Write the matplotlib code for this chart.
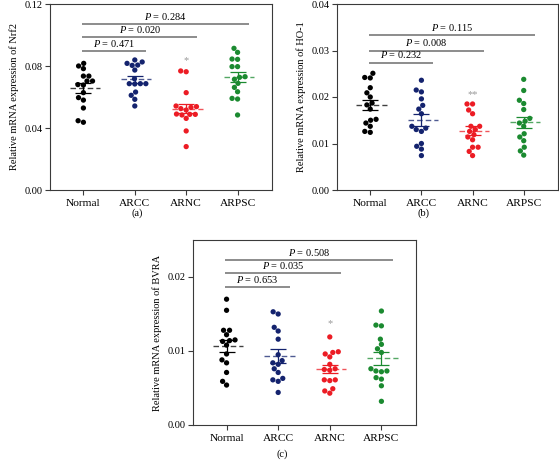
import matplotlib
matplotlib.use("Agg")
import matplotlib.pyplot as plt
import numpy as np
import pandas as pd
import seaborn as sns

groups = ["Normal", "ARCC", "ARNC", "ARPSC"]
colors = ["#000000", "#14236e", "#ec1c24", "#1b8a30"]

nrf2 = [
    [0.0817, 0.0800, 0.0783, 0.0735, 0.0735, 0.0703, 0.0703, 0.0680, 0.0677, 0.0628, 0.0596, 0.0580, 0.0529, 0.0447, 0.0437],
    [0.0839, 0.0826, 0.0817, 0.0806, 0.0804, 0.0774, 0.0718, 0.0686, 0.0686, 0.0686, 0.0684, 0.0632, 0.0611, 0.0585, 0.0542],
    [0.0763, 0.0768, 0.0628, 0.0542, 0.0538, 0.0533, 0.0525, 0.0516, 0.0490, 0.0488, 0.0488, 0.0484, 0.0462, 0.0381, 0.0280],
    [0.0914, 0.0888, 0.0845, 0.0843, 0.0796, 0.0796, 0.0731, 0.0727, 0.0714, 0.0688, 0.0662, 0.0634, 0.0591, 0.0587, 0.0484],
]
ho1 = [
    [0.0251, 0.0242, 0.0241, 0.0220, 0.0209, 0.0200, 0.0187, 0.0183, 0.0174, 0.0152, 0.0150, 0.0144, 0.0137, 0.0126, 0.0124],
    [0.0236, 0.0215, 0.0211, 0.0196, 0.0182, 0.0174, 0.0164, 0.0137, 0.0133, 0.0130, 0.0126, 0.0100, 0.0094, 0.0088, 0.0074],
    [0.0185, 0.0185, 0.0172, 0.0164, 0.0137, 0.0137, 0.0130, 0.0126, 0.0119, 0.0114, 0.0108, 0.0092, 0.0092, 0.0083, 0.0074],
    [0.0238, 0.0214, 0.0193, 0.0186, 0.0173, 0.0154, 0.0148, 0.0144, 0.0137, 0.0121, 0.0114, 0.0106, 0.0092, 0.0084, 0.0075],
]
bvra = [
    [0.0170, 0.0155, 0.0128, 0.0128, 0.0122, 0.0115, 0.0114, 0.0113, 0.0108, 0.0096, 0.0088, 0.0084, 0.0071, 0.0059, 0.0054],
    [0.0153, 0.0150, 0.0132, 0.0127, 0.0116, 0.0095, 0.0087, 0.0084, 0.0082, 0.0076, 0.0071, 0.0063, 0.0061, 0.0059, 0.0044],
    [0.0119, 0.0099, 0.0098, 0.0096, 0.0092, 0.0082, 0.0076, 0.0075, 0.0074, 0.0061, 0.0060, 0.0061, 0.0049, 0.0046, 0.0043],
    [0.0154, 0.0135, 0.0134, 0.0116, 0.0109, 0.0103, 0.0098, 0.0076, 0.0073, 0.0073, 0.0072, 0.0064, 0.0062, 0.0053, 0.0032],
]

nrf2_p = ["0.471", "0.020", "0.284"]
ho1_p = ["0.232", "0.008", "0.115"]
bvra_p = ["0.653", "0.035", "0.508"]

plt.rcParams["font.family"] = ["Liberation Serif", "DejaVu Serif"]
plt.rcParams["mathtext.fontset"] = "custom"
plt.rcParams["mathtext.it"] = "Liberation Serif:italic"
plt.rcParams["mathtext.rm"] = "Liberation Serif"

FS = 7.5
SPINE = "#3a3a3a"


def draw_panel(ax, data, ymax, yticks, ylabel, pvals, star, bar_fracs, star_off):
    df = pd.DataFrame({
        "group": np.repeat(groups, [len(d) for d in data]),
        "value": np.concatenate(data),
    })
    # lay the swarm out with a wider marker, then shrink the dots
    sns.swarmplot(data=df, x="group", y="value", hue="group", order=groups,
                  hue_order=groups, palette=colors, size=6.0, ax=ax,
                  legend=False, linewidth=0)
    for coll in ax.collections:
        coll.set_sizes([3.8 ** 2])

    for i, d in enumerate(data):
        d = np.asarray(d)
        m = d.mean()
        sem = d.std(ddof=1) / np.sqrt(len(d))
        ax.errorbar(i, m, yerr=sem, color=colors[i], capsize=5.5,
                    elinewidth=0.9, capthick=0.9, zorder=4)
        ax.hlines(m, i - 0.27, i + 0.32, colors=colors[i], linestyles=(0, (4, 2.2)),
                  linewidth=1.0, alpha=0.75, zorder=4)

    # comparison bars vs Normal
    for j, (p, f) in enumerate(zip(pvals, bar_fracs)):
        y = f * ymax
        x0, x1 = -0.03, j + 1 + 0.22
        ax.plot([x0, x1], [y, y], color="#6e6e6e", lw=1.1, solid_capstyle="butt")
        ax.text((x0 + x1) / 2, y + 0.012 * ymax, f"$P$ = {p}", ha="center", va="bottom",
                fontsize=FS)

    ax.text(2, max(data[2]) + star_off * ymax, star, ha="center", va="center",
            fontsize=FS, color="#999999")

    ax.set_xlim(-0.65, 3.67)
    ax.set_ylim(0, ymax)
    ax.set_yticks(yticks)
    ax.set_yticklabels([f"{t:.2f}" for t in yticks])
    ax.set_xlabel("")
    ax.set_ylabel(ylabel, fontsize=FS, labelpad=4)
    ax.tick_params(direction="out", length=3.5, width=0.8, labelsize=FS,
                   color=SPINE, pad=2)
    ax.tick_params(axis="x", labelsize=8.2, pad=3)
    for s in ax.spines.values():
        s.set_color(SPINE)
        s.set_linewidth(0.8)


fig = plt.figure(figsize=(5.59, 4.67), dpi=100)
W, H = 559, 467


def add_axes(left, right, top, bottom):
    return fig.add_axes([left / W, 1 - bottom / H, (right - left) / W, (bottom - top) / H])


ax_a = add_axes(50, 272, 4, 190)
ax_b = add_axes(337, 558, 4, 190)
ax_c = add_axes(193, 416, 240, 425)

draw_panel(ax_a, nrf2, 0.12, [0.0, 0.04, 0.08, 0.12],
           "Relative mRNA expression of Nrf2", nrf2_p, "*", [0.745, 0.82, 0.89], 0.055)
draw_panel(ax_b, ho1, 0.04, [0.0, 0.01, 0.02, 0.03, 0.04],
           "Relative mRNA expression of HO-1", ho1_p, "**", [0.685, 0.75, 0.833], 0.05)
draw_panel(ax_c, bvra, 0.025, [0.0, 0.01, 0.02],
           "Relative mRNA expression of BVRA", bvra_p, "*", [0.744, 0.82, 0.892], 0.07)

fig.text(137 / W, 1 - 213 / H, "(a)", ha="center", va="center", fontsize=FS)
fig.text(424 / W, 1 - 213 / H, "(b)", ha="center", va="center", fontsize=FS)
fig.text(282 / W, 1 - 454 / H, "(c)", ha="center", va="center", fontsize=FS)

fig.savefig("out.png", dpi=100)
